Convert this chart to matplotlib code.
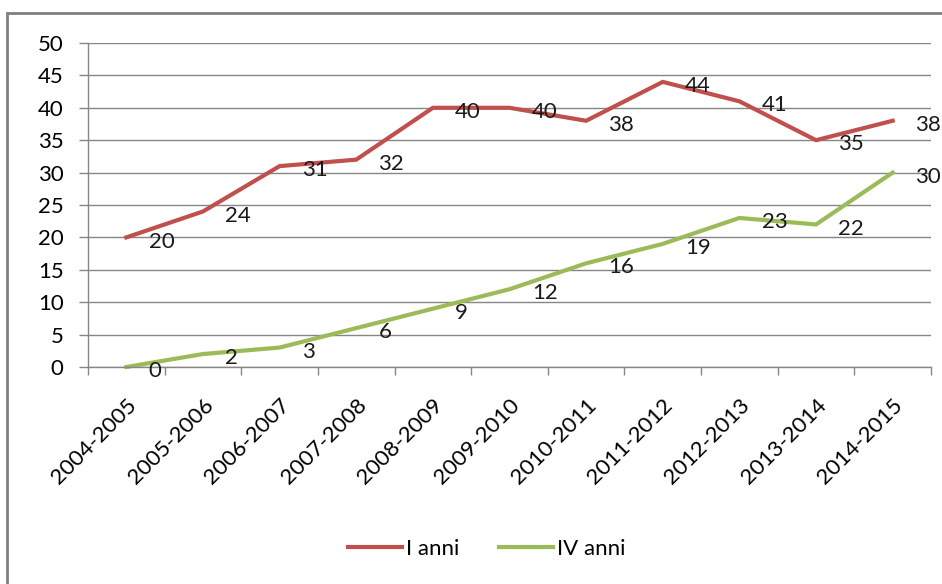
import matplotlib
matplotlib.use("Agg")
import matplotlib.pyplot as plt
from matplotlib.patches import Rectangle

plt.rcParams['font.family'] = ['Lato', 'DejaVu Sans']

# Dati
anni = ['2004-2005', '2005-2006', '2006-2007', '2007-2008', '2008-2009', '2009-2010',
        '2010-2011', '2011-2012', '2012-2013', '2013-2014', '2014-2015']
i_anni = [20, 24, 31, 32, 40, 40, 38, 44, 41, 35, 38]
iv_anni = [0, 2, 3, 6, 9, 12, 16, 19, 23, 22, 30]

ROSSO = '#C0504D'
VERDE = '#9BBB59'
GRIGIO = '#868686'
FS = 16

fig = plt.figure(figsize=(9.42, 5.84), dpi=100)
ax = fig.add_axes([88/942, 1-367/584, (931-88)/942, (367-43)/584])

x = list(range(len(anni)))
ax.plot(x, i_anni, color=ROSSO, lw=3, label='I anni', solid_joinstyle='miter', clip_on=False)
ax.plot(x, iv_anni, color=VERDE, lw=3, label='IV anni', solid_joinstyle='miter', clip_on=False)

# etichette dei valori
for serie in (i_anni, iv_anni):
    for xi, v in zip(x, serie):
        ax.annotate(str(v), (xi, v), xytext=(16, -3), textcoords='offset points',
                    ha='left', va='center', fontsize=FS, color='#1a1a1a', annotation_clip=False)

ax.set_xlim(-0.5, len(anni) - 0.5)
ax.set_ylim(0, 50)
ax.set_yticks(range(0, 51, 5))
ax.grid(axis='y', color=GRIGIO, lw=1)
ax.set_axisbelow(True)

ax.set_xticks(x)
ax.set_xticklabels(anni, rotation=45, ha='right', rotation_mode='anchor', fontsize=FS)
ax.set_xticks([i - 0.5 for i in range(len(anni) + 1)], minor=True)
ax.tick_params(axis='x', which='major', length=0, pad=20)
ax.tick_params(axis='x', which='minor', length=6, color=GRIGIO, width=1)
ax.tick_params(axis='y', length=6.5, color=GRIGIO, width=1, labelsize=FS, pad=11)

for s in ['top', 'right']:
    ax.spines[s].set_visible(False)
for s in ['left', 'bottom']:
    ax.spines[s].set_color(GRIGIO)
    ax.spines[s].set_linewidth(1)

fig.legend(loc='center', bbox_to_anchor=(487/942, 1-549/584), ncol=2, frameon=False,
           fontsize=FS, handlelength=2.4, handletextpad=0.2, columnspacing=1.8)

# bordo del riquadro
fig.patches.append(Rectangle((7/942, -0.05), 1.0, 1-13/584+0.05, transform=fig.transFigure,
                             fill=False, edgecolor='#808080', lw=2))

fig.savefig('out.png', dpi=100)
